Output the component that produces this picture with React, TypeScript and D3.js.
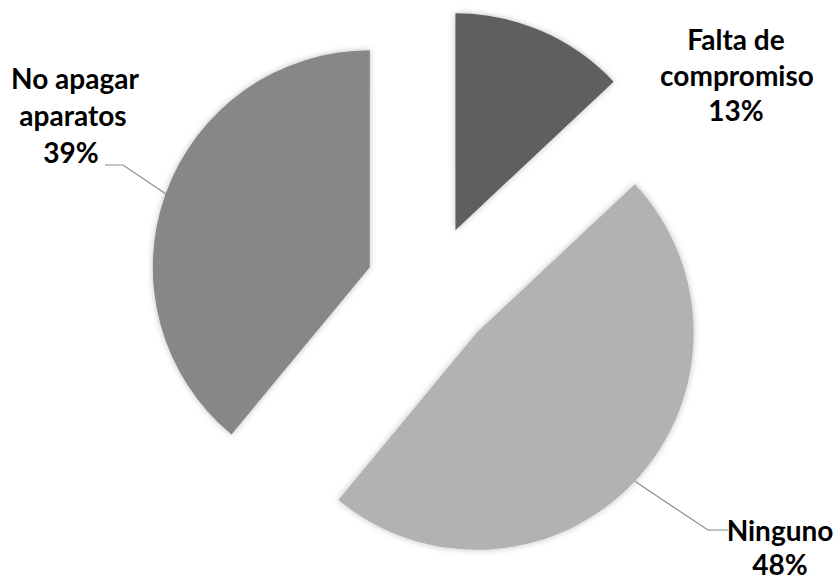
import React from "react";
import * as d3 from "d3";

const categories = ["Falta de compromiso", "Ninguno", "No apagar aparatos"];
const values = [13, 48, 39];
const labelLines = [["Falta de", "compromiso", "13%"], ["Ninguno", "48%"], ["No apagar", "aparatos", "39%"]];
const colors = ["#5e5e5e", "#b2b2b2", "#878787"];

const W = 840;
const H = 581;
const CX = 430;
const CY = 289;
const R = 217;
const EXPLODE = 64;

// label layout: line x centers, first baseline, leader elbow (null = no leader)
const labelLayout = [
  { xs: [736, 737, 736], y0: 50, dy: 35.5, elbow: null as null | number[] },
  { xs: [780, 780], y0: 541, dy: 34, elbow: [708, 530, 728, 530] },
  { xs: [75, 73, 71], y0: 89, dy: 37, elbow: [123, 165, 105, 165] },
];

export default function App() {
  const pie = d3.pie<number>().sort(null).value((d) => d).startAngle(0).endAngle(2 * Math.PI);
  const arcs = pie(values);
  const arcGen = d3.arc<d3.PieArcDatum<number>>().innerRadius(0).outerRadius(R);

  return (
    <svg width={W} height={H} style={{ position: "absolute", left: 0, top: 0, background: "#fff" }}>
      <defs>
        <filter id="sh" x="-20%" y="-20%" width="140%" height="140%">
          <feDropShadow dx="0" dy="0" stdDeviation="3" floodColor="#000" floodOpacity="0.25" />
        </filter>
      </defs>
      {arcs.map((a, i) => {
        const mid = (a.startAngle + a.endAngle) / 2;
        const ox = CX + EXPLODE * Math.sin(mid);
        const oy = CY - EXPLODE * Math.cos(mid);
        const lay = labelLayout[i];
        const px = ox + R * Math.sin(mid);
        const py = oy - R * Math.cos(mid);
        return (
          <g key={categories[i]}>
            <path d={arcGen(a) || ""} transform={`translate(${ox},${oy})`} fill={colors[i]} filter="url(#sh)" />
            {lay.elbow && (
              <polyline
                points={`${px},${py} ${lay.elbow[0]},${lay.elbow[1]} ${lay.elbow[2]},${lay.elbow[3]}`}
                fill="none"
                stroke="#8c8c8c"
                strokeWidth={1.2}
              />
            )}
          </g>
        );
      })}
      {labelLines.map((lines, i) => (
        <g key={"l" + i}>
          {lines.map((t, j) => (
            <text
              key={j}
              x={labelLayout[i].xs[j]}
              y={labelLayout[i].y0 + j * labelLayout[i].dy}
              textAnchor="middle"
              fontFamily="Lato, 'Open Sans', sans-serif"
              fontWeight="bold"
              fontSize={28}
              fill="#000"
            >
              {t}
            </text>
          ))}
        </g>
      ))}
    </svg>
  );
}
